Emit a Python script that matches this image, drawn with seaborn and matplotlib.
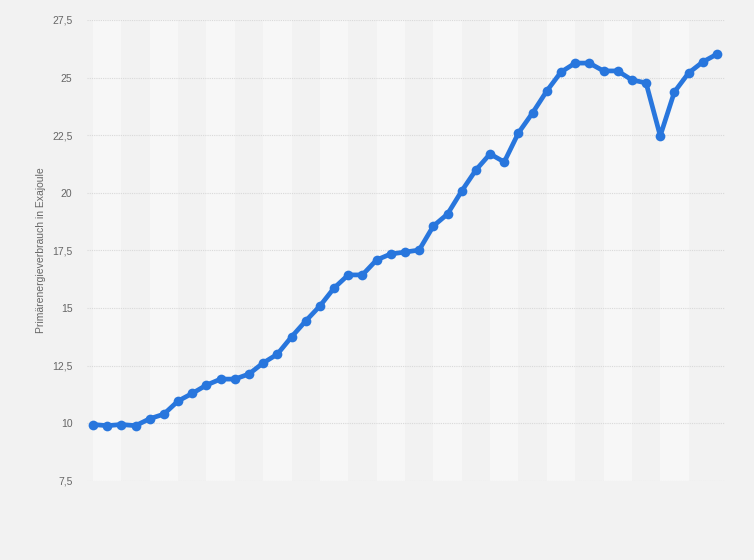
import matplotlib
matplotlib.use("Agg")
import matplotlib.pyplot as plt
import seaborn as sns
import pandas as pd

# Primärenergieverbrauch in Exajoule
werte = [9.95, 9.9, 9.95, 9.9, 10.2, 10.4, 10.97, 11.3, 11.66, 11.92,
         11.92, 12.14, 12.62, 13.0, 13.75, 14.44, 15.09, 15.87, 16.44, 16.44,
         17.09, 17.35, 17.43, 17.52, 18.56, 19.08, 20.08, 20.99, 21.69, 21.34,
         22.6, 23.47, 24.42, 25.24, 25.63, 25.63, 25.29, 25.29, 24.9, 24.77,
         22.47, 24.38, 25.2, 25.68, 26.02]
punkte = list(range(len(werte)))
y_ticks = [7.5, 10, 12.5, 15, 17.5, 20, 22.5, 25, 27.5]
y_labels = ["7,5", "10", "12,5", "15", "17,5", "20", "22,5", "25", "27,5"]

df = pd.DataFrame({"punkt": punkte, "wert": werte})

sns.set_style("white")
plt.rcParams['font.family'] = ['Liberation Sans', 'DejaVu Sans']

fig = plt.figure(figsize=(7.54, 5.6), dpi=100, facecolor="#f2f2f2")
ax = fig.add_axes([0.1154, 0.1411, 0.846, 0.8232])
ax.set_facecolor("#f2f2f2")

# abwechselnde Hintergrundstreifen
for i in range(0, len(werte) - 1, 4):
    ax.axvspan(i, i + 2, color="#f7f7f7", zorder=0, lw=0)

for t in y_ticks:
    ax.axhline(t, color="#d9d9d9", lw=0.8, ls=(0, (1, 1)), zorder=1)

sns.lineplot(data=df, x="punkt", y="wert", ax=ax, color="#2876dd",
             linewidth=3.4, marker="o", markersize=7, markeredgewidth=0,
             zorder=3)

ax.set_xlim(-0.42, 44.56)
ax.set_ylim(7.5, 27.5)
ax.set_xticks([])
ax.set_yticks(y_ticks)
ax.set_yticklabels(y_labels, fontsize=7.5, color="#666666")
ax.tick_params(axis="y", length=0, pad=10.5)
ax.set_xlabel("")
ax.set_ylabel("Primärenergieverbrauch in Exajoule", fontsize=7.5,
              color="#666666", labelpad=4)
for s in ax.spines.values():
    s.set_visible(False)

fig.savefig("out.png", dpi=100, facecolor=fig.get_facecolor())
